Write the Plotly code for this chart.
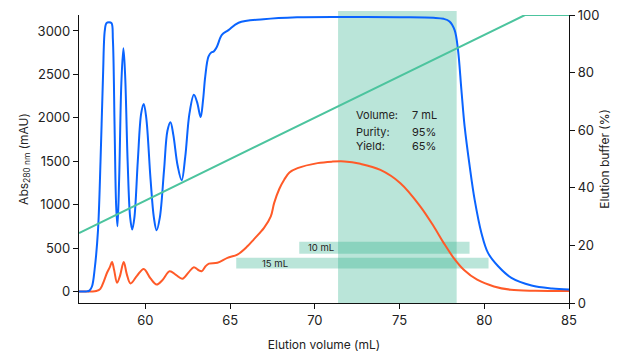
import plotly.graph_objects as go

# Blue: Abs 280 nm (mAU)
blue_x = [56.08, 56.5, 56.7, 56.85, 57.0, 57.2, 57.35, 57.5, 57.6, 57.7, 57.85, 58.0, 58.08, 58.18, 58.27, 58.35,
          58.45, 58.58, 58.7, 58.8, 58.95, 59.1, 59.22, 59.35, 59.55, 59.75, 59.9, 60.05, 60.3, 60.5, 60.66,
          60.85, 61.1, 61.3, 61.48, 61.65, 61.9, 62.14, 62.35, 62.6, 62.86, 63.05, 63.26, 63.4, 63.53, 63.72,
          63.9, 64.02, 64.22, 64.51, 64.9, 65.5, 66.97, 68.95, 72, 75, 77.0, 77.6, 77.95, 78.25, 78.45, 78.65,
          78.84, 79.14, 79.43, 79.83, 80.22, 80.82, 81.6, 82.79, 84.0, 85]
blue_y = [0, 0, 10, 60, 250, 700, 1500, 2500, 3000, 3090, 3100, 3090, 2900, 1900, 1000, 750,
          1300, 2400, 2800, 2500, 1500, 850, 713, 850, 1500, 2050, 2160, 2000, 1300, 850, 705,
          850, 1400, 1850, 1950, 1800, 1450, 1280, 1550, 2050, 2265, 2180, 2008, 2200, 2474, 2704,
          2755, 2762, 2819, 2954, 3010, 3095, 3135, 3158, 3162, 3158, 3152, 3140, 3110, 3010, 2780, 2320,
          1900, 1440, 1057, 674, 444, 290, 157, 69, 35, 23]

# Orange: second signal (same left axis)
orange_x = [56.08, 56.8, 57.1, 57.34, 57.55, 57.74, 57.9, 58.03, 58.15, 58.33, 58.5, 58.72, 58.9, 59.12, 59.5,
            59.9, 60.3, 60.66, 61.0, 61.43, 61.8, 62.18, 62.55, 62.86, 63.1, 63.32, 63.55, 63.75, 64.25, 64.84,
            65.43, 66.02, 66.4, 67.0, 67.4, 67.6, 67.9, 68.19, 68.5, 68.98, 70.16, 71.0, 71.74, 72.69, 73.87,
            75.05, 76.23, 77.02, 77.61, 78.2, 78.79, 79.58, 80.57, 81.56, 83, 85]
orange_y = [0, 0, 5, 30, 120, 218, 280, 340, 250, 100, 180, 340, 200, 92, 180,
            260, 150, 80, 130, 233, 190, 146, 220, 280, 250, 233, 290, 320, 330, 387,
            425, 520, 600, 732, 865, 1020, 1180, 1287, 1370, 1420, 1478, 1495, 1498, 1470, 1400,
            1247, 978, 748, 557, 384, 250, 135, 58, 20, 8, 5]

# Green: elution buffer gradient (%)
grad_x = [56.08, 82.4, 85]
grad_y = [24.3, 100, 100]

# Pooled fraction window and alternative pools
pool_x = [71.37, 78.37]
pool10_x = [69.08, 79.13]
pool10_y = [434, 572]
pool15_x = [65.36, 80.25]
pool15_y = [265, 388]

info_labels = ["Volume:", "Purity:", "Yield:"]
info_values = ["7 mL", "95%", "65%"]
info_y = [2033, 1838, 1677]

x_ticks = [60, 65, 70, 75, 80, 85]
y_ticks = [0, 500, 1000, 1500, 2000, 2500, 3000]
y2_ticks = [0, 20, 40, 60, 80, 100]

FONT = "Inter"
TXT = "#222222"
mint = "rgba(28,170,130,0.3)"

fig = go.Figure()
fig.add_trace(go.Scatter(x=grad_x, y=grad_y, yaxis="y2", mode="lines",
                         line=dict(color="#4cc49e", width=2), showlegend=False))
fig.add_trace(go.Scatter(x=orange_x, y=orange_y, mode="lines", line_shape="spline",
                         line=dict(color="#ff5a28", width=2), showlegend=False))
fig.add_trace(go.Scatter(x=blue_x, y=blue_y, mode="lines", line_shape="spline",
                         line=dict(color="#0a64ff", width=2), showlegend=False))

shapes = [
    dict(type="rect", xref="x", yref="paper", x0=pool_x[0], x1=pool_x[1], y0=0, y1=1.014,
         fillcolor=mint, line_width=0, layer="below"),
    dict(type="rect", xref="x", yref="y", x0=pool10_x[0], x1=pool10_x[1], y0=pool10_y[0], y1=pool10_y[1],
         fillcolor=mint, line_width=0, layer="below"),
    dict(type="rect", xref="x", yref="y", x0=pool15_x[0], x1=pool15_x[1], y0=pool15_y[0], y1=pool15_y[1],
         fillcolor=mint, line_width=0, layer="below"),
]

annotations = []
for lab, val, yy in zip(info_labels, info_values, info_y):
    annotations.append(dict(x=72.33, y=yy, xref="x", yref="y", text=lab, showarrow=False,
                            xanchor="left", yanchor="middle", font=dict(family=FONT, size=11, color=TXT)))
    annotations.append(dict(x=75.64, y=yy, xref="x", yref="y", text=val, showarrow=False,
                            xanchor="left", yanchor="middle", font=dict(family=FONT, size=11, color=TXT)))
annotations.append(dict(x=69.48, y=503, xref="x", yref="y", text="10 mL", showarrow=False,
                        xanchor="left", yanchor="middle", font=dict(family=FONT, size=9.5, color=TXT)))
annotations.append(dict(x=66.74, y=326, xref="x", yref="y", text="15 mL", showarrow=False,
                        xanchor="left", yanchor="middle", font=dict(family=FONT, size=9.5, color=TXT)))

axis_common = dict(showgrid=False, zeroline=False, showline=True, linecolor="#111111", linewidth=1.3,
                   ticks="outside", ticklen=5, tickwidth=1.2, tickcolor="#111111", automargin=False,
                   ticklabeloverflow="allow", tickfont=dict(family=FONT, size=13, color=TXT))

# page body has an 8px margin, so the figure is 8px smaller and margins compensate
fig.update_layout(
    width=611, height=344,
    margin=dict(l=71, r=50, t=7, b=49),
    paper_bgcolor="white", plot_bgcolor="white",
    shapes=shapes, annotations=annotations,
    xaxis=dict(range=[56.08, 85], tickvals=x_ticks,
               title=dict(text="Elution volume (mL)", font=dict(family=FONT, size=12, color=TXT), standoff=17),
               **axis_common),
    yaxis=dict(range=[-133, 3184], tickvals=y_ticks,
               title=dict(text="Abs<sub>280 nm</sub> (mAU)", font=dict(family=FONT, size=12, color=TXT), standoff=6),
               **axis_common),
    yaxis2=dict(range=[0, 100], tickvals=y2_ticks, overlaying="y", side="right", anchor="x",
                title=dict(text="Elution buffer (%)", font=dict(family=FONT, size=12, color=TXT), standoff=2),
                **axis_common),
)

fig.write_html("out.html")
